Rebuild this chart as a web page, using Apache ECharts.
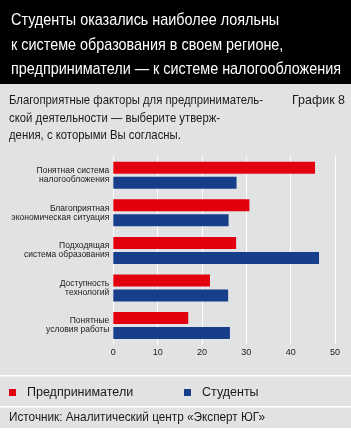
<!DOCTYPE html>
<html>
<head>
<meta charset="utf-8">
<script src="https://cdn.jsdelivr.net/npm/echarts@6/dist/echarts.min.js"></script>
<style>
html,body{margin:0;padding:0;background:#ffffff;}
#c{width:351px;height:437px;}
</style>
</head>
<body>
<div id="c"></div>
<script>
const categories = ['Понятная система\nналогообложения','Благоприятная\nэкономическая ситуация','Подходящая\nсистема образования','Доступность\nтехнологий','Понятные\nусловия работы'];
const seriesNames = ['Предприниматели','Студенты'];
const entrepreneurs = [45.5, 30.7, 27.7, 21.8, 16.9];
const students = [27.8, 26.0, 46.4, 25.9, 26.3];
const titleLines = ['Студенты оказались наиболее лояльны','к системе образования в своем регионе,','предприниматели — к системе налогообложения'];
const subtitleLines = ['Благоприятные факторы для предприниматель-','ской деятельности — выберите утверж-','дения, с которыми Вы согласны.'];
const chartLabel = 'График 8';
const sourceText = 'Источник: Аналитический центр «Эксперт ЮГ»';

const FONT = '"Liberation Sans",Arial,sans-serif';
const RED = '#e2000f';
const BLUE = '#173e8a';
const BG = '#e1e2e4';
const INK = '#1a1a1a';

const mctx = document.createElement('canvas').getContext('2d');
function measure(text, size, weight){
  mctx.font = (weight||'normal') + ' ' + size + 'px ' + FONT;
  return mctx.measureText(text).width;
}

const chart = echarts.init(document.getElementById('c'), null, {renderer:'canvas'});
const graphics = [
  {type:'rect', shape:{x:0,y:0,width:351,height:428}, style:{fill:BG}, z:-10},
  {type:'rect', shape:{x:0,y:0,width:351,height:84}, style:{fill:'#000000'}, z:-9},
  {type:'rect', shape:{x:0,y:375,width:351,height:1.5}, style:{fill:'#ffffff'}, z:-8},
  {type:'rect', shape:{x:0,y:406,width:351,height:1.5}, style:{fill:'#ffffff'}, z:-8},
];
const titleScale = 330 / measure(titleLines[2], 17);
const titleY = [20, 45, 69.5];
titleLines.forEach((t,i)=>{
  graphics.push({type:'text', x:11, y:titleY[i], scaleX:titleScale, originX:0,
    style:{text:t, fill:'#ffffff', font:'17px '+FONT, textVerticalAlign:'middle'}});
});
const subScale = 254 / measure(subtitleLines[0], 13);
const subY = [100.5, 118, 135.5];
subtitleLines.forEach((t,i)=>{
  graphics.push({type:'text', x:9, y:subY[i], scaleX:subScale,
    style:{text:t, fill:INK, font:'13px '+FONT, textVerticalAlign:'middle'}});
});
const lblScale = 53 / measure(chartLabel, 13);
graphics.push({type:'text', x:292, y:100.5, scaleX:lblScale,
  style:{text:chartLabel, fill:INK, font:'13px '+FONT, textVerticalAlign:'middle'}});
const srcScale = 256 / measure(sourceText, 13);
graphics.push({type:'text', x:9, y:417, scaleX:srcScale,
  style:{text:sourceText, fill:INK, font:'13px '+FONT, textVerticalAlign:'middle'}});

chart.setOption({
  animation:false,
  backgroundColor:'#ffffff',
  graphic: graphics,
  grid:{left:113.3, right:16, top:156.5, bottom:92.7, containLabel:false},
  legend:[
    {data:[seriesNames[0]], left:9, top:386, padding:0, itemWidth:7, itemHeight:7, icon:'rect',
     textStyle:{fontFamily:FONT, fontSize:12.5, color:INK, padding:[0,0,0,6]}},
    {data:[seriesNames[1]], left:184, top:386, padding:0, itemWidth:7, itemHeight:7, icon:'rect',
     textStyle:{fontFamily:FONT, fontSize:12.5, color:INK, padding:[0,0,0,6]}}
  ],
  xAxis:{
    type:'value', min:0, max:50, interval:10,
    axisLine:{show:false}, axisTick:{show:false},
    splitLine:{show:true, lineStyle:{color:'#ffffff', width:1}},
    axisLabel:{fontFamily:FONT, fontSize:9, color:INK, margin:4}
  },
  yAxis:{
    type:'category', data:categories, inverse:true,
    axisLine:{show:true, lineStyle:{color:'#ffffff', width:1}}, axisTick:{show:false},
    axisLabel:{fontFamily:FONT, fontSize:8.5, lineHeight:9, color:INK, margin:4, align:'right'}
  },
  series:[
    {name:seriesNames[0], type:'bar', data:entrepreneurs, barWidth:12, barGap:'25%', itemStyle:{color:RED}},
    {name:seriesNames[1], type:'bar', data:students, barWidth:12, barGap:'25%', itemStyle:{color:BLUE}}
  ]
});
</script>
</body>
</html>
